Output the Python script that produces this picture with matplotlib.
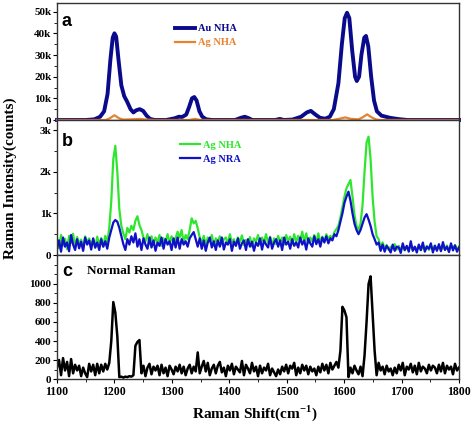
#!/usr/bin/env python
import numpy as np
import matplotlib
matplotlib.use('Agg')
import matplotlib.pyplot as plt
from matplotlib.ticker import MultipleLocator, FuncFormatter

plt.rc('font', family='Liberation Serif', weight='bold')
plt.rcParams['mathtext.fontset'] = 'custom'
plt.rcParams['mathtext.rm'] = 'Liberation Serif:bold'
plt.rcParams['mathtext.bf'] = 'Liberation Serif:bold'

# panel a: smooth spectra (Raman shift, counts)
au_x = [1100, 1150, 1165, 1175, 1182, 1188, 1193, 1197, 1200, 1203, 1207, 1212,
        1217, 1222, 1228, 1233, 1238, 1244, 1250, 1256, 1262, 1270, 1290, 1305,
        1312, 1318, 1325, 1330, 1335, 1339, 1343, 1348, 1353, 1360, 1370, 1410,
        1420, 1427, 1434, 1440, 1480, 1488, 1495, 1510, 1525, 1535, 1542, 1550,
        1558, 1567, 1575, 1582, 1590, 1596, 1601, 1605, 1609, 1614, 1619, 1622,
        1626, 1630, 1635, 1638, 1642, 1647, 1652, 1657, 1665, 1680, 1695, 1710, 1800]
au_y = [0, 0, 300, 1500, 4000, 12000, 28000, 38000, 40000, 38500, 28000, 16000,
        11000, 8500, 5000, 3500, 4500, 5000, 4200, 2000, 500, 0, 0, 800,
        1500, 1400, 2500, 6000, 10000, 10600, 9000, 4000, 1500, 300, 0, 0,
        1000, 1500, 800, 0, 0, 500, 0, 200, 1500, 3500, 4200, 2500,
        1000, 600, 1500, 5000, 17000, 35000, 47000, 49500, 47000, 32000, 20000, 18000,
        20000, 30000, 38000, 38800, 34000, 20000, 9000, 4000, 2000, 1000, 400, 0, 0]

ag_x = [1100, 1185, 1192, 1200, 1208, 1215, 1230, 1245, 1255, 1270, 1330, 1340,
        1350, 1580, 1592, 1602, 1612, 1625, 1632, 1640, 1648, 1656, 1665, 1800]
ag_y = [0, 0, 800, 2200, 800, 200, 300, 500, 200, 0, 0, 500,
        0, 0, 600, 1200, 500, 300, 1200, 2600, 1200, 200, 0, 0]

# panels b and c: noisy spectra sampled every 3.5 cm-1 from 1100 to 1800
# (each row of ten values covers 35 cm-1)
shift = np.arange(201) * 3.5 + 1100

ag_nha = [420, 160, 480, 230, 390, 140, 460, 290, 510, 190,
          430, 260, 370, 150, 450, 300, 400, 220, 380, 170,
          440, 250, 410, 200, 460, 300, 650, 1300, 2300, 2620,
          2000, 1100, 700, 520, 380, 650, 540, 700, 600, 820,
          930, 720, 600, 420, 330, 500, 260, 450, 250, 420,
          300, 480, 220, 400, 330, 500, 280, 450, 260, 400,
          560, 420, 600, 300, 480, 380, 600, 880, 760, 820,
          640, 420, 300, 460, 240, 420, 320, 480, 220, 400,
          300, 450, 250, 380, 420, 260, 500, 300, 380, 230,
          420, 310, 470, 240, 360, 280, 430, 200, 400, 320,
          480, 250, 420, 300, 500, 280, 440, 220, 400, 260,
          460, 300, 420, 250, 480, 330, 440, 260, 500, 300,
          460, 340, 560, 300, 520, 280, 420, 330, 480, 300,
          520, 300, 440, 330, 500, 380, 460, 400, 550, 620,
          700, 900, 1150, 1400, 1600, 1700, 1800, 1400, 950, 700,
          600, 750, 1200, 2000, 2700, 2840, 2300, 1400, 800, 450,
          380, 200, 300, 150, 240, 120, 200, 160, 260, 130,
          220, 130, 190, 110, 200, 140, 230, 120, 180, 150,
          210, 110, 190, 140, 220, 120, 200, 150, 230, 130,
          200, 120, 190, 140, 230, 110, 210, 150, 240, 130,
          200]

ag_nra = [150, 350, 80, 420, 200, 300, 90, 480, 250, 120,
          380, 160, 320, 100, 420, 250, 350, 130, 400, 180,
          300, 120, 380, 200, 330, 150, 420, 600, 780, 840,
          800, 650, 450, 260, 120, 380, 250, 450, 300, 520,
          200, 380, 120, 400, 250, 150, 420, 180, 350, 100,
          300, 220, 420, 150, 380, 250, 330, 120, 400, 180,
          420, 150, 380, 250, 330, 200, 400, 480, 550, 380,
          200, 400, 150, 350, 100, 300, 420, 180, 330, 120,
          350, 200, 420, 130, 300, 250, 380, 100, 320, 220,
          400, 150, 280, 350, 120, 380, 200, 320, 100, 300,
          220, 400, 130, 350, 250, 180, 420, 150, 300, 380,
          200, 350, 120, 420, 250, 320, 150, 380, 220, 300,
          180, 420, 250, 350, 130, 400, 280, 200, 450, 260,
          380, 200, 420, 300, 450, 280, 400, 350, 500, 450,
          600, 800, 1000, 1250, 1400, 1520, 1300, 1000, 750, 600,
          500, 600, 750, 900, 980, 850, 700, 500, 380, 250,
          300, 100, 250, 80, 220, 150, 60, 250, 100, 200,
          180, 50, 280, 120, 220, 80, 330, 100, 200, 60,
          250, 120, 300, 80, 200, 150, 280, 60, 220, 100,
          260, 90, 310, 120, 200, 70, 280, 110, 230, 80,
          180]

normal = [120, 200, 40, 220, 90, 180, 30, 210, 60, 150,
          90, 140, 30, 120, 60, 20, 160, 80, 150, 40,
          160, 60, 150, 80, 160, 100, 170, 400, 810, 700,
          450, 20, 25, 15, 25, 20, 30, 25, 40, 350,
          390, 410, 60, 140, 30, 120, 160, 50, 130, 90,
          140, 40, 150, 60, 120, 30, 140, 100, 50, 130,
          80, 150, 60, 130, 40, 110, 150, 60, 130, 80,
          280, 60, 130, 190, 80, 170, 40, 110, 150, 60,
          140, 180, 70, 120, 30, 140, 90, 160, 50, 130,
          100, 70, 190, 40, 150, 110, 60, 170, 80, 130,
          30, 140, 60, 120, 90, 160, 40, 110, 70, 30,
          100, 50, 130, 80, 150, 60, 140, 110, 170, 40,
          120, 60, 150, 90, 140, 50, 130, 80, 110, 40,
          130, 70, 160, 90, 150, 60, 170, 100, 140, 180,
          120, 300, 760, 720, 650, 20, 120, 60, 140, 90,
          50, 130, 30, 250, 600, 1000, 1080, 700, 300, 40,
          170, 90, 130, 50, 140, 80, 110, 40, 120, 60,
          150, 90, 170, 40, 130, 100, 160, 70, 140, 50,
          170, 80, 130, 110, 60, 150, 90, 140, 120, 60,
          150, 80, 170, 60, 140, 100, 130, 50, 160, 90,
          120]

fig = plt.figure(figsize=(4.72, 4.26), dpi=100)
L, W = 0.1208, 0.8517
axA = fig.add_axes([L, 0.7183, W, 0.2746])
axB = fig.add_axes([L, 0.4014, W, 0.3169])
axC = fig.add_axes([L, 0.1103, W, 0.2911])

kfmt = FuncFormatter(lambda v, p: '0' if v == 0 else '%dk' % int(round(v / 1000)))

for ax in (axA, axB, axC):
    ax.set_xlim(1100, 1800)
    for s in ax.spines.values():
        s.set_linewidth(1.0)
        s.set_color('#333333')
    ax.tick_params(axis='y', direction='out', length=3, width=0.8, labelsize=8, pad=1)
    ax.tick_params(axis='y', which='minor', direction='out', length=2, width=0.6)
    ax.tick_params(axis='x', which='both', direction='out')
    ax.xaxis.set_major_locator(MultipleLocator(100))
    ax.xaxis.set_minor_locator(MultipleLocator(50))

for ax in (axA, axB):
    ax.tick_params(axis='x', which='both', bottom=False, labelbottom=False)

leg_kw = dict(loc='upper left', frameon=False, borderaxespad=0, borderpad=0,
              handlelength=1.9, handletextpad=0.3, labelspacing=0.45,
              fontsize=7.5, labelcolor='linecolor')

# panel a
axA.plot(au_x, au_y, color='#0a0a8c', lw=2.8, label='Au NHA', clip_on=False,
         solid_joinstyle='round')
axA.plot(ag_x, ag_y, color='#e8822e', lw=1.6, label='Ag NHA', clip_on=False)
axA.set_ylim(0, 54000)
axA.yaxis.set_major_locator(MultipleLocator(10000))
axA.yaxis.set_minor_locator(MultipleLocator(5000))
axA.yaxis.set_major_formatter(kfmt)
axA.legend(bbox_to_anchor=(0.293, 0.82), **leg_kw)

# panel b
axB.plot(shift, ag_nha, color='#2ee62e', lw=1.6, label='Ag NHA')
axB.plot(shift, ag_nra, color='#1010c8', lw=1.6, label='Ag NRA')
axB.set_ylim(0, 3240)
axB.yaxis.set_major_locator(MultipleLocator(1000))
axB.yaxis.set_minor_locator(MultipleLocator(500))
axB.yaxis.set_major_formatter(kfmt)
axB.legend(bbox_to_anchor=(0.306, 0.85), **leg_kw)

# panel c
axC.plot(shift, normal, color='black', lw=1.8)
axC.set_ylim(0, 1305)
axC.set_yticks([0, 200, 400, 600, 800, 1000])
axC.yaxis.set_minor_locator(MultipleLocator(100))
axC.tick_params(axis='x', labelsize=8.5, length=3, pad=2)
axC.text(0.075, 0.87, 'Normal Raman', transform=axC.transAxes, fontsize=9.5,
         ha='left', va='center')

for ax, lab in ((axA, 'a'), (axB, 'b'), (axC, 'c')):
    ax.text(0.012, 0.84 if ax is not axC else 0.87, lab, transform=ax.transAxes,
            family='Liberation Sans', fontsize=13, fontweight='bold',
            ha='left', va='center')

fig.text(0.021, 0.582, 'Raman Intensity(counts)', rotation=90, fontsize=11,
         ha='center', va='center')
fig.text(0.54, 0.031, 'Raman Shift(cm$^{-1}$)', fontsize=11,
         ha='center', va='center')

plt.savefig('out.png', dpi=100)
print("Done!")
